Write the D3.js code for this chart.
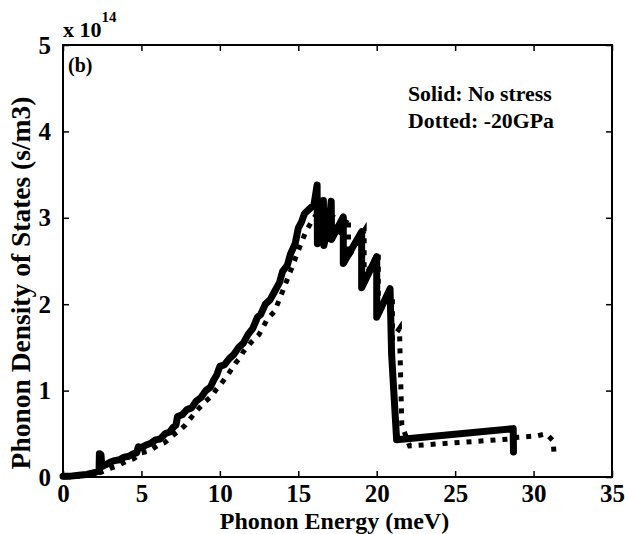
<!DOCTYPE html>
<html><head><meta charset="utf-8">
<script src="https://cdn.jsdelivr.net/npm/d3@7"></script>
<style>body{margin:0;background:#fff}svg{display:block}text{font-family:"Liberation Serif","Times New Roman",serif;font-weight:bold;fill:#000}</style>
</head><body><svg id="c" width="625" height="534"></svg>
<script>
// Phonon energy (meV) / DOS (x1e14 s/m3)
const solidE = [0,0.5,1,1.5,2,2.3,2.32,2.42,2.48,2.7,3,3.3,3.6,3.9,4.2,4.5,4.7,4.8,5.0,5.3,5.6,5.9,6.2,6.5,6.8,7.0,7.2,7.3,7.6,7.9,8.2,8.5,8.8,9.1,9.4,9.6,9.8,10.0,10.3,10.6,10.9,11.2,11.5,11.8,12.1,12.4,12.6,12.9,13.2,13.5,13.8,14.0,14.3,14.5,14.8,15.0,15.2,15.4,15.7,16.0,16.2,16.22,16.5,16.6,16.63,17.0,17.1,17.12,17.87,17.87,19.04,19.04,20.0,20.0,20.85,20.95,21.27,28.7,28.72];
const solidD = [0.01,0.01,0.02,0.03,0.05,0.07,0.27,0.26,0.12,0.14,0.17,0.19,0.2,0.23,0.24,0.27,0.28,0.35,0.34,0.37,0.39,0.43,0.44,0.5,0.52,0.57,0.6,0.7,0.72,0.78,0.8,0.88,0.92,1.0,1.04,1.12,1.18,1.28,1.3,1.37,1.42,1.5,1.55,1.65,1.72,1.85,1.88,2.0,2.05,2.15,2.25,2.38,2.45,2.58,2.7,2.88,2.95,3.05,3.1,3.15,3.38,2.7,3.0,3.2,2.68,3.0,3.19,2.75,3.01,2.47,2.84,2.19,2.55,1.85,2.18,1.42,0.43,0.56,0.29];
const dotE = [0,1,2,2.5,3,3.5,4,4.5,5,5.5,6,6.5,7,7.5,7.8,8,8.5,9,9.5,9.8,10,10.5,11,11.3,11.5,12,12.5,12.8,13,13.5,14,14.5,15,15.5,16,16.4,16.6,17,17.3,17.5,18.2,18.2,19.2,19.2,20.1,20.1,21.0,21.0,21.45,21.6,22.1,28.5,29.0,30.2,30.8,31.25,31.3];
const dotD = [0,0.01,0.03,0.06,0.1,0.13,0.18,0.21,0.28,0.3,0.36,0.4,0.48,0.55,0.6,0.65,0.76,0.86,0.94,1.02,1.06,1.18,1.32,1.38,1.45,1.56,1.65,1.75,1.82,1.92,2.15,2.38,2.62,2.85,3.0,3.1,2.8,3.05,3.0,2.8,3.0,2.55,2.85,2.3,2.6,1.9,2.1,1.6,1.72,0.6,0.36,0.44,0.46,0.475,0.5,0.42,0.28];
const xTicks = [0,5,10,15,20,25,30,35];
const yTicks = [0,1,2,3,4,5];

const svg = d3.select("#c");
const L=63,R=612,T=45,B=477;
const x = d3.scaleLinear().domain([0,35]).range([L,R]);
const y = d3.scaleLinear().domain([0,5]).range([B,T]);
const line = d3.line().x(d=>x(d[0])).y(d=>y(d[1]));

svg.append("path").datum(d3.zip(solidE,solidD)).attr("d",line)
  .attr("fill","none").attr("stroke","#000").attr("stroke-width",7).attr("stroke-linejoin","round").attr("stroke-linecap","round");
svg.append("path").datum(d3.zip(dotE,dotD)).attr("d",line)
  .attr("fill","none").attr("stroke","#000").attr("stroke-width",5).attr("stroke-dasharray","5,7");

// box
svg.append("rect").attr("x",L).attr("y",T).attr("width",R-L).attr("height",B-T)
  .attr("fill","none").attr("stroke","#000").attr("stroke-width",2);

const gx = svg.append("g").attr("transform",`translate(0,${B})`)
  .call(d3.axisBottom(x).tickValues(xTicks).tickSize(-6).tickPadding(7).tickFormat(d3.format("d")));
const gxt = svg.append("g").attr("transform",`translate(0,${T})`)
  .call(d3.axisTop(x).tickValues(xTicks).tickSize(-6).tickFormat(""));
const gy = svg.append("g").attr("transform",`translate(${L},0)`)
  .call(d3.axisLeft(y).tickValues(yTicks).tickSize(-6).tickPadding(12).tickFormat(d3.format("d")));
const gyr = svg.append("g").attr("transform",`translate(${R},0)`)
  .call(d3.axisRight(y).tickValues(yTicks).tickSize(-6).tickFormat(""));
[gx,gxt,gy,gyr].forEach(g=>{g.select(".domain").remove();g.selectAll("line").attr("stroke","#000").attr("stroke-width",1.5);});
[gx,gy].forEach(g=>g.selectAll("text").attr("font-family","Liberation Serif").attr("font-weight","bold").attr("font-size",25).attr("fill","#000"));

svg.append("text").attr("x",(L+R)/2-3).attr("y",529).attr("text-anchor","middle").attr("font-size",24).text("Phonon Energy (meV)");
svg.append("text").attr("transform","translate(30,283) rotate(-90)").attr("text-anchor","middle").attr("font-size",27.5).text("Phonon Density of States (s/m3)");

const ex = svg.append("text").attr("x",63).attr("y",37).attr("font-size",22);
ex.append("tspan").text("x 10");
ex.append("tspan").attr("dy",-15).attr("font-size",15).text("14");

svg.append("text").attr("x",68).attr("y",72).attr("font-size",20).text("(b)");
svg.append("text").attr("x",408).attr("y",101).attr("font-size",21.8).text("Solid: No stress");
svg.append("text").attr("x",408).attr("y",128).attr("font-size",21.8).text("Dotted: -20GPa");
</script></body></html>
